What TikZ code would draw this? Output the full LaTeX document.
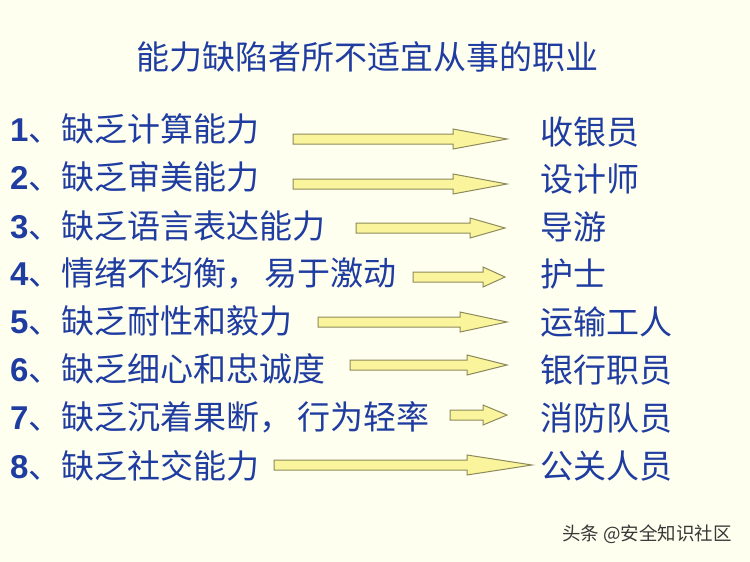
\documentclass[tikz,border=0pt]{standalone}
\usepackage{fontspec}
\setsansfont{Liberation Sans}
\newfontfamily\cjk{Noto Sans CJK SC}
\usetikzlibrary{calc}
\definecolor{bg}{HTML}{FFFFF0}
\definecolor{txtblue}{HTML}{1F3CA0}
\definecolor{arrowfill}{HTML}{FAF59C}
\definecolor{arrowline}{HTML}{8C8A5A}
\newcommand{\itemno}[1]{{\sffamily\bfseries #1}}
\newcommand{\cm}{，\hspace{5pt}}
% block arrow: from, to, head length
\newcommand{\yarrow}[3]{%
  \draw[blockarrow] let \p1=(#1), \p2=(#2) in
    (\x1,\y1+5pt) -- (\x2-#3pt,\y1+5pt) -- (\x2-#3pt,\y1+10pt) -- (\x2,\y2)
    -- (\x2-#3pt,\y1-10pt) -- (\x2-#3pt,\y1-5pt) -- (\x1,\y1-5pt) -- cycle;}

\begin{document}
\begin{tikzpicture}[x=1pt,y=-1pt]
\tikzset{item/.style={anchor=west,inner sep=0pt,text=txtblue,font=\cjk\fontsize{33}{36}\selectfont}}
\tikzset{titletext/.style={inner sep=0pt,text=txtblue,font=\cjk\fontsize{33}{36}\selectfont}}
\tikzset{blockarrow/.style={fill=arrowfill,draw=arrowline,line width=1pt,line join=miter}}
\tikzset{wmark/.style={anchor=west,inner sep=0pt,text=black!78,font=\cjk\fontsize{18.5}{20}\selectfont}}
\fill[bg] (0,0) rectangle (750,562);
\node[titletext] (title) at (367,57) {能力缺陷者所不适宜从事的职业};
% left column
\node[item] (l1) at (10,129) {\itemno{1}、缺乏计算能力};
\node[item] (l2) at (10,177) {\itemno{2}、缺乏审美能力};
\node[item] (l3) at (10,226) {\itemno{3}、缺乏语言表达能力};
\node[item] (l4) at (10,273) {\itemno{4}、情绪不均衡\cm 易于激动};
\node[item] (l5) at (10,321) {\itemno{5}、缺乏耐性和毅力};
\node[item] (l6) at (10,369) {\itemno{6}、缺乏细心和忠诚度};
\node[item] (l7) at (10,417) {\itemno{7}、缺乏沉着果断\cm 行为轻率};
\node[item] (l8) at (10,466) {\itemno{8}、缺乏社交能力};
% right column
\node[item] (r1) at (540,132) {收银员};
\node[item] (r2) at (540,179) {设计师};
\node[item] (r3) at (540,227) {导游};
\node[item] (r4) at (540,274) {护士};
\node[item] (r5) at (540,322) {运输工人};
\node[item] (r6) at (540,370) {银行职员};
\node[item] (r7) at (540,418) {消防队员};
\node[item] (r8) at (540,466) {公关人员};
% arrows
\coordinate (a1s) at (293,139); \coordinate (a1e) at (507,139);
\coordinate (a2s) at (293,184); \coordinate (a2e) at (507,184);
\coordinate (a3s) at (356,228); \coordinate (a3e) at (505,228);
\coordinate (a4s) at (413,277); \coordinate (a4e) at (505,277);
\coordinate (a5s) at (318,322); \coordinate (a5e) at (507,322);
\coordinate (a6s) at (350,365); \coordinate (a6e) at (507,365);
\coordinate (a7s) at (450,415); \coordinate (a7e) at (507,415);
\coordinate (a8s) at (274,465); \coordinate (a8e) at (532,465);
\yarrow{a1s}{a1e}{54}
\yarrow{a2s}{a2e}{54}
\yarrow{a3s}{a3e}{35}
\yarrow{a4s}{a4e}{22}
\yarrow{a5s}{a5e}{47}
\yarrow{a6s}{a6e}{40}
\yarrow{a7s}{a7e}{24}
\yarrow{a8s}{a8e}{65}
\node[wmark] (mark) at (562,534) {头条 @安全知识社区};
\end{tikzpicture}
\end{document}
